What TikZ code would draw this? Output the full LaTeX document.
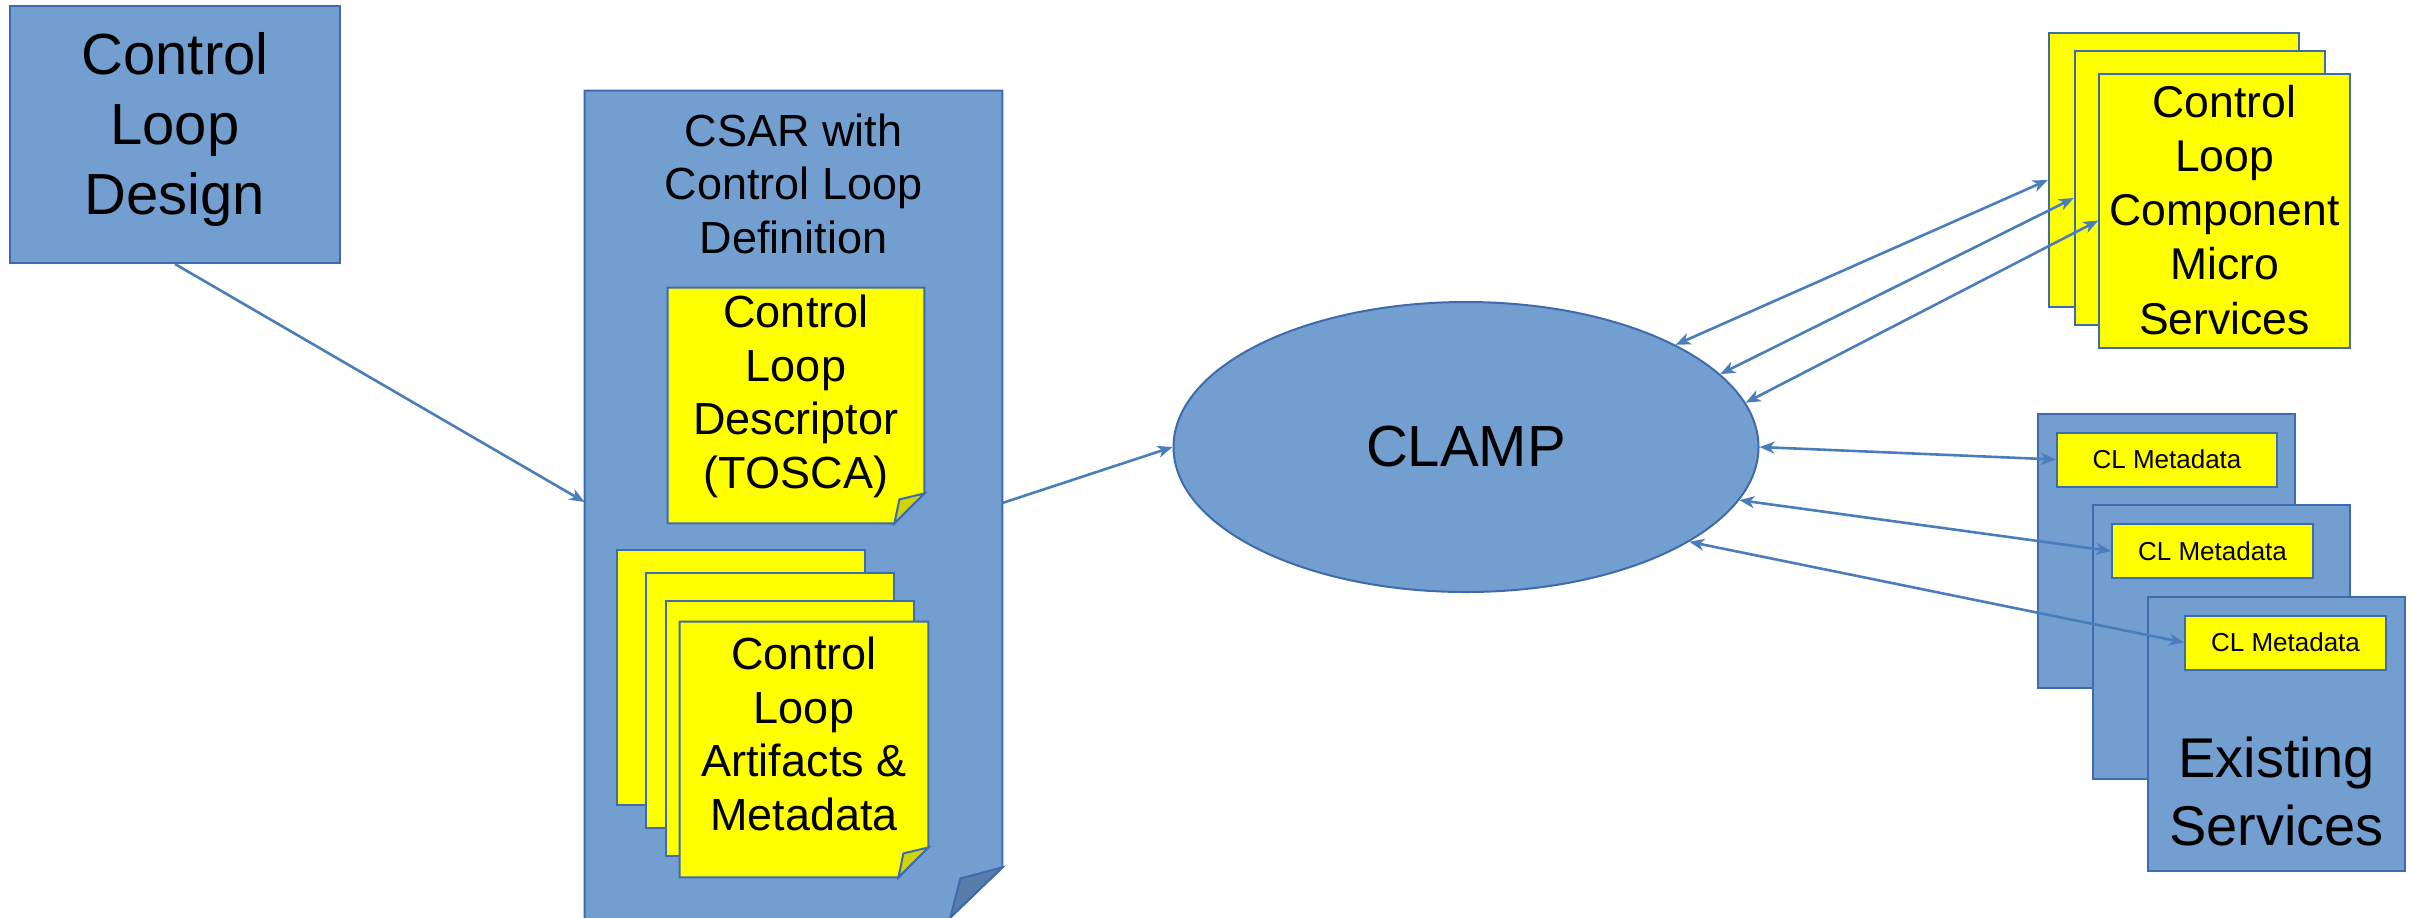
\documentclass[tikz,border=0pt]{standalone}
\usepackage{fontspec}
\setmainfont{Liberation Sans}
\usetikzlibrary{shapes.geometric,arrows.meta,calc}

\definecolor{boxblue}{HTML}{729FCF}
\definecolor{edgeblue}{HTML}{3D6BAE}
\definecolor{lineblue}{HTML}{4A7EBB}
\definecolor{foldblue}{HTML}{587DAA}
\definecolor{noteyellow}{HTML}{FFFF00}
\definecolor{foldyellow}{HTML}{D2D20A}

\newcommand\designfont{\fontsize{29}{35}\selectfont}
\newcommand\notefont{\fontsize{22.5}{26.7}\selectfont}
\newcommand\msfont{\fontsize{22.25}{27.1}\selectfont}
\newcommand\existfont{\fontsize{28}{34}\selectfont}
\newcommand\metafont{\fontsize{13}{15}\selectfont}

\tikzset{
  bluebox/.style={rectangle,draw=edgeblue,fill=boxblue,line width=1pt,inner sep=0pt},
  yellowbox/.style={rectangle,draw=edgeblue,fill=noteyellow,line width=1pt,inner sep=0pt},
  ghost/.style={rectangle,inner sep=0pt},
  txt/.style={inner sep=0pt,align=center},
  link/.style={draw=lineblue,line width=1.3pt}
}

\begin{document}
\begin{tikzpicture}[x=0.5pt,y=-0.5pt,>={Stealth[length=7.5pt,width=6pt,inset=2.2pt]}]
\useasboundingbox (0,0) rectangle (2413,917);

% design box
\node[bluebox,minimum width=165pt,minimum height=128.5pt] (design) at (175,134.5) {};
\node[txt,anchor=north,font=\designfont] (designtxt) at ([yshift=-13.4pt]design.north) {Control\\Loop\\Design};

% CSAR with folded corner
\node[ghost,minimum width=208.5pt,minimum height=417pt] (csar) at (793.5,508) {};
\filldraw[draw=edgeblue,fill=boxblue,line width=1pt] (csar.north west) -- (csar.north east)
  -- ($(csar.south east)+(0,-58)$) -- ($(csar.south east)+(-60.3,0)$) -- (csar.south west) -- cycle;
\filldraw[draw=edgeblue,fill=foldblue,line width=1pt] ($(csar.south east)+(0,-58)$)
  -- ($(csar.south east)+(-42,-47)$) -- ($(csar.south east)+(-52,-8)$) -- cycle;
\node[txt,anchor=north,font=\notefont] (csartxt) at ([yshift=-11.45pt]csar.north) {CSAR with\\Control Loop\\Definition};

% artifacts stack
\foreach \i/\cx/\cy in {1/741/677, 2/769.5/700, 3/790/728}
  \node[yellowbox,minimum width=124pt,minimum height=127.5pt] (art\i) at (\cx,\cy) {};

\node[ghost,minimum width=128pt,minimum height=117.5pt] (desc) at (796,405.5) {};
\node[ghost,minimum width=124pt,minimum height=127.5pt] (art4) at (804,749.5) {};

% notes with dog ear
\foreach \n in {desc,art4}{
  \filldraw[draw=edgeblue,fill=noteyellow,line width=1pt] (\n.north west) -- (\n.north east)
    -- ($(\n.south east)+(0,-30)$) -- ($(\n.south east)+(-30,0)$) -- (\n.south west) -- cycle;
  \filldraw[draw=edgeblue,fill=foldyellow,line width=1pt] ($(\n.south east)+(0,-30)$)
    -- ($(\n.south east)+(-25,-24)$) -- ($(\n.south east)+(-30,0)$) -- cycle;
}
\node[txt,anchor=north,font=\notefont] (desctxt) at ([yshift=-3.6pt]desc.north) {Control\\Loop\\Descriptor\\(TOSCA)};
\node[txt,anchor=north,font=\notefont] (art4txt) at ([yshift=-7.6pt]art4.north) {Control\\Loop\\Artifacts \&\\Metadata};

% CLAMP
\node[ellipse,draw=edgeblue,fill=boxblue,line width=1pt,inner sep=0pt,
  minimum width=292.5pt,minimum height=145pt,font=\fontsize{29}{35}\selectfont] (clamp) at (1466,447) {CLAMP};

% micro services
\foreach \i/\cx/\cy in {1/2174/170, 2/2200/188, 3/2224.5/210.5}
  \node[yellowbox,minimum width=125.25pt,minimum height=137pt] (ms\i) at (\cx,\cy) {};
\node[txt,anchor=north,font=\msfont] (mstxt) at ([yshift=-6.1pt]ms3.north) {Control\\Loop\\Component\\Micro\\Services};

% existing services
\foreach \i/\cx/\cy/\mx/\my/\mw in {1/2166.5/551/2167/459.5/110pt, 2/2221.5/642/2212.5/551/100.5pt, 3/2276.5/734/2285.5/642.5/100.5pt}{
  \node[bluebox,minimum width=128.5pt,minimum height=137pt] (ex\i) at (\cx,\cy) {};
  \node[yellowbox,minimum width=\mw,minimum height=27pt,font=\metafont] (meta\i) at (\mx,\my) {CL Metadata};
}
\node[txt,anchor=south,font=\existfont] (extxt) at ([yshift=12.6pt]ex3.south) {Existing\\Services};

% connectors
\draw[link,->] (design.south) -- ([yshift=3pt]csar.west);
\draw[link,->] ([yshift=2.5pt]csar.east) -- (clamp.west);
\foreach \a/\b in {26.3/ms1, 16.6/ms2, 9.4/ms3}
  \draw[link,<->] (clamp.\a) -- ([yshift=-5pt]\b.west);
\foreach \a/\b in {0/meta1, 349.3/meta2, 337/meta3}
  \draw[link,<->] (clamp.\a) -- (\b.west);
\end{tikzpicture}
\end{document}
